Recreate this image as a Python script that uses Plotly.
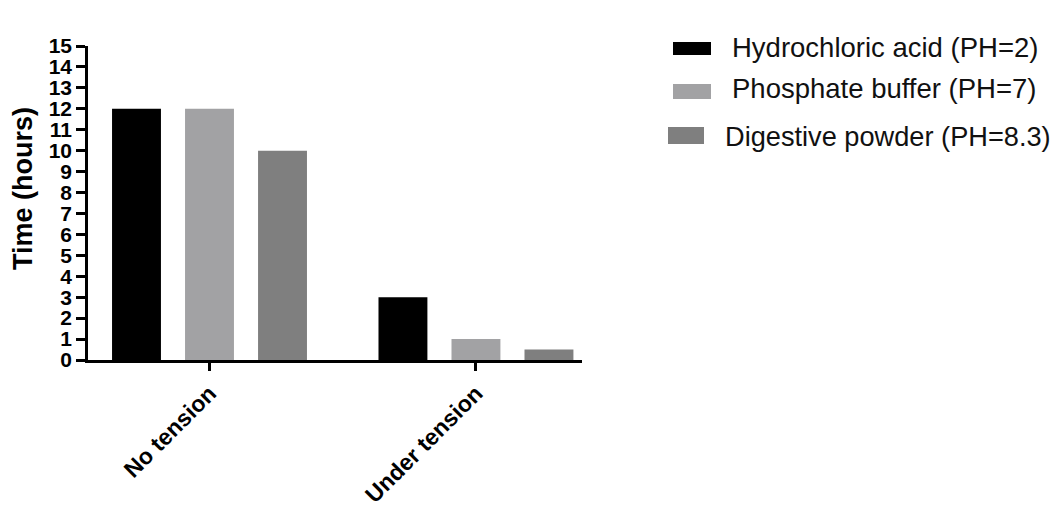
import plotly.graph_objects as go

categories = ["No tension", "Under tension"]
series_names = ["Hydrochloric acid (PH=2)", "Phosphate buffer (PH=7)", "Digestive powder (PH=8.3)"]
hcl = [12, 3]
phosphate = [12, 1]
digestive = [10, 0.5]
colors = ["#000000", "#a2a2a4", "#7f7f7f"]
y_ticks = list(range(0, 16))

FONT = "Arial, Liberation Sans, sans-serif"

# page has an 8px body margin; work in page pixels and convert
OFF = 8
W, H = 1059 - OFF, 508 - OFF
L, R, T, B = 88 - OFF, 582 - OFF, 46 - OFF, 360 - OFF
pw, ph = R - L, B - T

fig = go.Figure()
for name, vals, col in zip(series_names, [hcl, phosphate, digestive], colors):
    fig.add_trace(go.Bar(x=categories, y=vals, name=name, marker_color=col,
                         marker_line_width=0, showlegend=False))

def px2paper(x, y):
    # x, y in page pixels
    return (x - OFF - L) / pw, (B - (y - OFF)) / ph

# custom legend
legend_rows = [
    (673, 711, 42, 55, 730, 47, 27.5),
    (673, 711, 84, 99, 730, 88, 27.5),
    (668, 704, 127, 144, 723, 136, 27.2),
]
for (x0, x1, y0, y1, tx, ty, fs), name, col in zip(legend_rows, series_names, colors):
    a0, b0 = px2paper(x0, y1)
    a1, b1 = px2paper(x1, y0)
    fig.add_shape(type="rect", xref="paper", yref="paper", x0=a0, x1=a1, y0=b0, y1=b1,
                  fillcolor=col, line_width=0)
    ax, ay = px2paper(tx, ty)
    fig.add_annotation(xref="paper", yref="paper", x=ax, y=ay, text=name, showarrow=False,
                       xanchor="left", yanchor="middle",
                       font=dict(family=FONT, size=fs, color="#111111"))

# y title
tx, ty = px2paper(23, 189)
fig.add_annotation(xref="paper", yref="paper", x=tx, y=ty, text="<b>Time (hours)</b>",
                   showarrow=False, textangle=-90, xanchor="center", yanchor="middle",
                   font=dict(family=FONT, size=27, color="#000000"))

fig.update_layout(
    width=W, height=H,
    margin=dict(l=L, r=W - R, t=T, b=H - B),
    plot_bgcolor="white", paper_bgcolor="white",
    barmode="group", bargap=0.178, bargroupgap=0.33,
    font=dict(family=FONT, color="#000000"),
)
fig.update_xaxes(
    range=[-0.456, 1.398], showgrid=False, zeroline=False, automargin=False,
    showline=True, linecolor="black", linewidth=2.5,
    ticks="outside", ticklen=8, tickwidth=2.5, tickcolor="black",
    tickangle=-45, tickfont=dict(family=FONT, size=23, color="black"),
    ticktext=[f"<b>{c}</b>" for c in categories], tickvals=categories,
)
fig.update_yaxes(
    range=[0, 15], showgrid=False, zeroline=False, automargin=False,
    showline=True, linecolor="black", linewidth=2.5,
    ticks="outside", ticklen=9, tickwidth=2.5, tickcolor="black",
    tickvals=y_ticks, ticktext=[f"<b>{v}</b>" for v in y_ticks],
    tickfont=dict(family=FONT, size=21, color="black"),
)

fig.write_html("out.html")
